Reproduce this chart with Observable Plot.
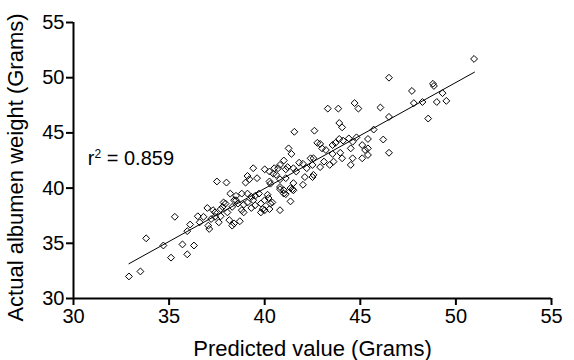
<!DOCTYPE html>
<html><head><meta charset="utf-8">
<script src="https://cdn.jsdelivr.net/npm/d3@7"></script>
<script src="https://cdn.jsdelivr.net/npm/@observablehq/plot@0.6"></script>
<style>body{margin:0;background:#fff}</style>
</head><body><div id="chart"></div>
<script>
// Predicted value (g) and actual albumen weight (g)
const predicted = [
32.9,33.5,33.8,34.7,35.1,35.7,35.95,36.3,35.3,35.95,36.1,36.5,36.6,37.0,37.3,37.05,37.1,37.2,37.4,37.6,
37.7,37.8,37.85,38.05,38.15,38.3,38.4,38.5,37.5,38.0,39.1,39.4,39.0,39.2,40.0,40.25,40.45,40.7,41.0,41.1,
40.8,41.1,40.3,38.2,38.5,38.8,39.1,39.3,39.5,39.7,40.15,40.8,41.0,40.0,40.3,39.9,40.25,38.4,38.6,38.9,
37.95,37.7,37.4,36.8,38.7,38.3,38.9,39.3,39.5,39.8,41.55,42.6,43.9,44.05,41.25,41.4,40.8,40.5,41.2,41.5,
41.65,41.8,42.0,42.4,42.55,42.75,42.9,43.0,43.2,43.55,43.7,43.9,44.1,44.4,44.5,44.8,45.1,45.4,45.1,44.6,
44.5,43.55,43.6,43.95,44.05,43.4,43.1,42.9,42.5,42.2,42.55,42.1,42.5,42.0,41.5,41.35,41.0,40.8,41.1,41.35,
40.4,40.6,47.7,48.8,48.85,44.7,44.9,46.05,47.8,48.25,49.0,46.5,48.55,45.7,44.6,45.4,46.2,45.25,45.4,46.5,
50.95,49.3,49.5,43.3,43.85,46.5,39.6,40.25,41.45,40.2,40.0,39.8,38.8,39.4,39.1,40.8,41.5
];
const actual = [
32.0,32.45,35.45,34.8,33.7,34.9,34.0,34.8,37.4,36.1,36.7,37.45,36.9,38.2,38.0,36.6,36.3,37.2,37.4,36.9,
37.45,38.3,38.7,37.8,37.1,38.3,36.8,38.9,40.6,40.5,41.1,41.8,40.5,40.8,41.7,41.5,41.3,41.8,42.5,41.7,
40.8,40.9,40.4,39.5,39.3,39.5,39.5,39.2,39.3,39.5,39.4,39.9,39.5,38.9,38.6,38.1,38.1,38.9,38.6,38.5,
38.6,38.1,37.8,37.4,37.0,36.6,37.8,38.2,38.45,38.6,45.1,45.2,45.9,45.5,43.6,43.1,42.1,41.8,41.9,41.8,
41.5,42.3,42.2,42.7,42.7,44.1,44.0,43.6,43.45,43.9,44.1,44.45,44.3,44.5,43.6,44.6,43.9,43.6,42.7,42.7,
42.1,43.1,42.4,43.2,42.7,42.1,42.4,41.9,42.1,41.8,41.2,41.0,41.0,40.3,40.45,40.0,39.8,40.1,39.45,38.8,
38.7,41.2,48.8,49.45,49.25,47.7,47.2,47.3,47.7,47.8,47.8,46.45,46.3,45.3,44.2,44.45,44.4,43.45,43.0,43.2,
51.7,48.6,47.9,47.2,47.2,50.0,40.9,40.6,39.9,39.1,38.0,37.8,38.0,38.9,38.7,38.0,39.8
];
// Fitted regression line end points
const fitX = [32.9, 50.97];
const fitY = [33.15, 50.5];
const xTicks = [30, 35, 40, 45, 50, 55];
const yTicks = [30, 35, 40, 45, 50, 55];
const xTitle = "Predicted value (Grams)";
const yTitle = "Actual albumen weight (Grams)";
const annotation = "r\u00B2 = 0.859";
const annotationX = 30.75, annotationY = 42.7;

const points = predicted.map((x, i) => ({x, y: actual[i]}));
const fit = fitX.map((x, i) => ({x, y: fitY[i]}));

const chart = Plot.plot({
  width: 574,
  height: 360,
  marginLeft: 73,
  marginRight: 23,
  marginTop: 22,
  marginBottom: 62,
  style: {fontFamily: "Liberation Sans, Arial, sans-serif", color: "#000", background: "#fff"},
  x: {domain: [30, 55], ticks: xTicks},
  y: {domain: [30, 55], ticks: yTicks},
  marks: [
    Plot.axisX({ticks: xTicks, tickSize: 7, tickPadding: 3, fontSize: 20, strokeWidth: 2,
      label: xTitle, labelAnchor: "center", labelArrow: "none", labelOffset: 57}),
    Plot.axisY({ticks: yTicks, tickSize: 7, tickPadding: 2, fontSize: 20, strokeWidth: 2,
      label: yTitle, labelAnchor: "center", labelArrow: "none", labelOffset: 66}),
    Plot.ruleX([30], {strokeWidth: 2}),
    Plot.ruleY([30], {strokeWidth: 2}),
    Plot.line(fit, {x: "x", y: "y", stroke: "#000", strokeWidth: 1}),
    Plot.dot(points, {x: "x", y: "y", symbol: "diamond2", r: 3.1, stroke: "#000", strokeWidth: 1, fill: "none"}),
    Plot.text([annotation], {x: annotationX, y: annotationY, text: d => d, textAnchor: "start", fontSize: 20})
  ]
});
// axis title font size
d3.selectAll(chart.querySelectorAll("g[aria-label='x-axis label'], g[aria-label='y-axis label']")).attr("font-size", 22);
// y title slightly lower, as in the reference
const yl = chart.querySelector("g[aria-label='y-axis label']");
if (yl) yl.setAttribute("transform", "translate(0,7) " + (yl.getAttribute("transform") || ""));
// small raised "2" in the annotation
const ann = chart.querySelector("g[aria-label='text'] text");
if (ann) {
  ann.textContent = "";
  const s = d3.select(ann);
  s.append("tspan").text("r");
  s.append("tspan").attr("font-size", 12).attr("dy", "-7").text("2");
  s.append("tspan").attr("dy", "7").attr("xml:space", "preserve").text(" = 0.859");
}
document.getElementById("chart").append(chart);
</script>
</body></html>
